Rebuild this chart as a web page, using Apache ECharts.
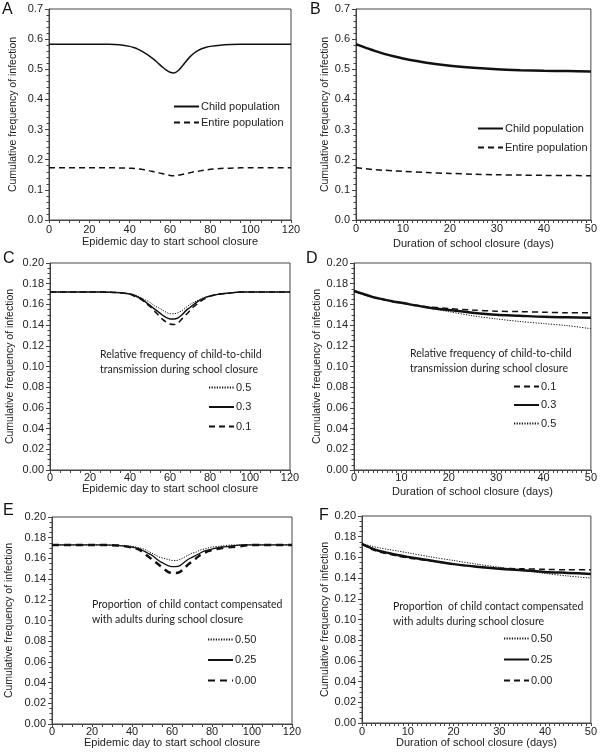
<!DOCTYPE html>
<html>
<head>
<meta charset="utf-8">
<script src="https://cdn.jsdelivr.net/npm/echarts@6/dist/echarts.min.js"></script>
<style>html,body{margin:0;padding:0;background:#fff}#c{width:600px;height:754px}</style>
</head>
<body>
<div id="c"></div>
<script>
// ---------- DATA ----------
// Epidemic day to start school closure (panels A, C, E)
const startDays = [0,5,10,15,20,25,30,35,40,42,44,46,48,50,52,54,56,58,60,62,64,66,68,70,72,74,76,78,80,85,90,95,100,105,110,115,120];
// Panel A
const aChild  = [0.583,0.583,0.583,0.583,0.583,0.583,0.583,0.581,0.576,0.572,0.567,0.560,0.552,0.543,0.533,0.521,0.509,0.498,0.490,0.488,0.495,0.510,0.527,0.542,0.554,0.563,0.569,0.573,0.576,0.580,0.582,0.583,0.583,0.583,0.583,0.583,0.583];
const aEntire = [0.173,0.173,0.173,0.173,0.173,0.173,0.173,0.1728,0.172,0.171,0.170,0.168,0.166,0.163,0.160,0.157,0.154,0.151,0.148,0.147,0.148,0.151,0.154,0.157,0.160,0.162,0.164,0.166,0.168,0.171,0.172,0.173,0.173,0.173,0.173,0.173,0.173];
// Panel C (relative frequency of child-to-child transmission)
const cDot05   = [0.172,0.172,0.172,0.172,0.172,0.172,0.1718,0.1713,0.1703,0.1695,0.168,0.166,0.164,0.162,0.159,0.157,0.155,0.1525,0.151,0.151,0.152,0.154,0.157,0.160,0.162,0.164,0.166,0.167,0.168,0.170,0.171,0.172,0.172,0.172,0.172,0.172,0.172];
const cSolid03 = [0.172,0.172,0.172,0.172,0.172,0.172,0.1718,0.1713,0.1700,0.169,0.167,0.165,0.162,0.159,0.156,0.153,0.150,0.1475,0.146,0.1458,0.147,0.150,0.154,0.157,0.160,0.163,0.165,0.167,0.168,0.170,0.171,0.172,0.172,0.172,0.172,0.172,0.172];
const cDash01  = [0.172,0.172,0.172,0.172,0.172,0.172,0.1718,0.1712,0.1698,0.168,0.1665,0.164,0.161,0.158,0.154,0.150,0.146,0.143,0.141,0.1405,0.142,0.146,0.150,0.154,0.158,0.161,0.164,0.166,0.168,0.170,0.171,0.172,0.172,0.172,0.172,0.172,0.172];
// Panel E (proportion of child contact compensated with adults)
const eDot050   = [0.173,0.173,0.173,0.173,0.173,0.173,0.1728,0.1724,0.1716,0.171,0.170,0.169,0.167,0.165,0.163,0.161,0.160,0.159,0.158,0.158,0.159,0.161,0.163,0.165,0.166,0.168,0.169,0.170,0.171,0.172,0.173,0.173,0.173,0.173,0.173,0.173,0.173];
const eSolid025 = [0.173,0.173,0.173,0.173,0.173,0.173,0.1728,0.1722,0.1710,0.170,0.169,0.167,0.165,0.163,0.160,0.157,0.155,0.153,0.152,0.152,0.153,0.156,0.159,0.161,0.163,0.165,0.167,0.168,0.169,0.171,0.172,0.173,0.173,0.173,0.173,0.173,0.173];
const eDash000  = [0.173,0.173,0.173,0.173,0.173,0.173,0.1728,0.1721,0.1705,0.1695,0.168,0.165,0.162,0.159,0.156,0.153,0.150,0.147,0.146,0.146,0.147,0.150,0.154,0.157,0.160,0.163,0.165,0.167,0.168,0.170,0.171,0.172,0.173,0.173,0.173,0.173,0.173];

// Duration of school closure (days) (panels B, D, F)
const durDays = [0,2,4,6,8,10,15,20,25,30,35,40,45,50];
const bChild  = [0.583,0.572,0.561,0.551,0.543,0.536,0.522,0.512,0.505,0.500,0.497,0.495,0.494,0.493];
const bEntire = [0.173,0.170,0.167,0.165,0.163,0.1615,0.1575,0.1545,0.152,0.150,0.149,0.148,0.1475,0.147];
const dDash01  = [0.173,0.170,0.167,0.165,0.163,0.1615,0.158,0.156,0.1545,0.1535,0.153,0.1525,0.152,0.152];
const dSolid03 = [0.173,0.170,0.167,0.165,0.163,0.1615,0.1575,0.1545,0.152,0.150,0.149,0.148,0.1475,0.147];
const dDot05   = [0.173,0.170,0.167,0.165,0.163,0.161,0.157,0.153,0.149,0.146,0.1435,0.1415,0.1395,0.1365];
const fDot050   = [0.173,0.171,0.169,0.1675,0.166,0.1645,0.1605,0.157,0.1535,0.1505,0.1475,0.1445,0.142,0.140];
const fSolid025 = [0.173,0.169,0.166,0.164,0.162,0.1605,0.157,0.1535,0.151,0.149,0.1475,0.146,0.145,0.144];
const fDash000  = [0.173,0.168,0.165,0.163,0.161,0.1595,0.1565,0.1535,0.151,0.1495,0.149,0.1485,0.148,0.148];

const panelLetters = ['A','B','C','D','E','F'];
const yName = 'Cumulative frequency of infection';
const xNameStart = 'Epidemic day to start school closure';
const xNameDur = 'Duration of school closure (days)';
const headC = 'Relative frequency of child-to-child\ntransmission during school closure';
const headE = 'Proportion  of child contact compensated\nwith adults during school closure';

// ---------- CHART ----------
const pairs = (xs, ys) => xs.map((x, i) => [x, ys[i]]);
const FONT = 'Liberation Sans, Arial, sans-serif';
const INK = '#111';
const AX = '#444';

const grids = [
  {left: 49,  top: 9,   width: 242, height: 211},
  {left: 356, top: 9,   width: 237, height: 211},
  {left: 50,  top: 263, width: 240, height: 207},
  {left: 354, top: 263, width: 239, height: 207},
  {left: 52,  top: 517, width: 240, height: 207},
  {left: 362, top: 516, width: 232, height: 207}
].map(g => Object.assign({show: true, borderColor: AX, borderWidth: 1, backgroundColor: 'transparent'}, g));

function xAx(i, max, interval, minorSplit, name, nameGap, margin) {
  return {
    type: 'value', gridIndex: i, min: 0, max: max, interval: interval,
    name: name, nameLocation: 'middle', nameGap: nameGap,
    nameTextStyle: {fontFamily: FONT, fontSize: 11, color: '#222'},
    axisLine: {show: true, onZero: false, lineStyle: {color: AX, width: 1}},
    axisTick: {show: true, inside: false, length: 3, lineStyle: {color: AX}},
    minorTick: {show: true, splitNumber: minorSplit, length: 3, lineStyle: {color: AX}},
    axisLabel: {fontFamily: FONT, fontSize: 11, color: '#222', margin: margin},
    splitLine: {show: false}
  };
}
function yAx(i, max, interval, dec, nameGap) {
  return {
    type: 'value', gridIndex: i, min: 0, max: max, interval: interval,
    name: yName, nameLocation: 'middle', nameGap: nameGap, nameRotate: 90,
    nameTextStyle: {fontFamily: FONT, fontSize: 10.5, color: '#222'},
    axisLine: {show: true, onZero: false, lineStyle: {color: AX, width: 1}},
    axisTick: {show: true, inside: false, length: 4, lineStyle: {color: AX}},
    minorTick: {show: true, splitNumber: dec === 1 ? 5 : 4, length: 2.5, lineStyle: {color: AX}},
    axisLabel: {fontFamily: FONT, fontSize: 11, color: '#222', margin: 6, formatter: v => v.toFixed(dec)},
    splitLine: {show: false}
  };
}

const xAxes = [
  xAx(0, 120, 20, 4, xNameStart, 16, 4),
  xAx(1, 50, 10, 10, xNameDur, 18, 3),
  xAx(2, 120, 20, 4, xNameStart, 13, 2),
  xAx(3, 50, 10, 10, xNameDur, 16, 2),
  xAx(4, 120, 20, 4, xNameStart, 8, 2),
  xAx(5, 50, 10, 10, xNameDur, 13, 3)
];
const yAxes = [
  yAx(0, 0.7, 0.1, 1, 30),
  yAx(1, 0.7, 0.1, 1, 25),
  yAx(2, 0.2, 0.02, 2, 34),
  yAx(3, 0.2, 0.02, 2, 28),
  yAx(4, 0.2, 0.02, 2, 37),
  yAx(5, 0.2, 0.02, 2, 31)
];

function line(name, i, xs, ys, width, type) {
  return {
    name: name, type: 'line', xAxisIndex: i, yAxisIndex: i,
    data: pairs(xs, ys), smooth: 0.3, symbol: 'none', silent: true,
    lineStyle: {color: INK, width: width, type: type},
    itemStyle: {color: INK}
  };
}
const DOT = [1.2, 1.4];
const DASH = [6, 4];
const series = [
  line('A|Child population', 0, startDays, aChild, 1.5, 'solid'),
  line('A|Entire population', 0, startDays, aEntire, 1.5, DASH),
  line('B|Child population', 1, durDays, bChild, 2.5, 'solid'),
  line('B|Entire population', 1, durDays, bEntire, 1.5, DASH),
  line('C|0.5', 2, startDays, cDot05, 1, DOT),
  line('C|0.3', 2, startDays, cSolid03, 1.5, 'solid'),
  line('C|0.1', 2, startDays, cDash01, 1.5, DASH),
  line('D|0.1', 3, durDays, dDash01, 1.5, DASH),
  line('D|0.3', 3, durDays, dSolid03, 2.5, 'solid'),
  line('D|0.5', 3, durDays, dDot05, 1, DOT),
  line('E|0.50', 4, startDays, eDot050, 1, DOT),
  line('E|0.25', 4, startDays, eSolid025, 1.3, 'solid'),
  line('E|0.00', 4, startDays, eDash000, 2.5, [7, 5]),
  line('F|0.50', 5, durDays, fDot050, 1, DOT),
  line('F|0.25', 5, durDays, fSolid025, 2.5, 'solid'),
  line('F|0.00', 5, durDays, fDash000, 1.5, DASH)
];

function legend(names, left, top, gap) {
  return {
    data: names, left: left, top: top, orient: 'vertical', padding: 0,
    itemWidth: 25, itemHeight: 10, itemGap: gap, selectedMode: false,
    itemStyle: {opacity: 0},
    formatter: n => n.split('|')[1],
    textStyle: {fontFamily: FONT, fontSize: 11, color: '#222', padding: [0, 0, 0, -3]}
  };
}
const legends = [
  legend(['A|Child population', 'A|Entire population'], 173, 101, 5),
  legend(['B|Child population', 'B|Entire population'], 477, 123, 8),
  legend(['C|0.5', 'C|0.3', 'C|0.1'], 208, 382, 8.5),
  legend(['D|0.1', 'D|0.3', 'D|0.5'], 513, 381, 7.5),
  legend(['E|0.50', 'E|0.25', 'E|0.00'], 207, 634, 9.5),
  legend(['F|0.50', 'F|0.25', 'F|0.00'], 503, 633, 10)
];

const letterPos = [[2, 2], [310, 2], [3, 251], [306, 251], [3, 503], [319, 508]];
const titles = letterPos.map((p, i) => ({
  text: panelLetters[i], left: p[0], top: p[1], padding: 0,
  textStyle: {fontFamily: FONT, fontSize: 16, fontWeight: 'normal', color: '#111'}
}));
const headStyle = {fontFamily: 'Lato, Open Sans, sans-serif', fontSize: 10.5, fontWeight: 'normal', color: '#222', lineHeight: 15};
titles.push({text: headC, left: 100, top: 347, padding: 0, textStyle: headStyle});
titles.push({text: headC, left: 410, top: 346, padding: 0, textStyle: headStyle});
titles.push({text: headE, left: 92, top: 597, padding: 0, textStyle: headStyle});
titles.push({text: headE, left: 393, top: 599, padding: 0, textStyle: headStyle});

const chart = echarts.init(document.getElementById('c'), null, {renderer: 'canvas'});
chart.setOption({
  animation: false,
  backgroundColor: '#fff',
  title: titles,
  legend: legends,
  grid: grids,
  xAxis: xAxes,
  yAxis: yAxes,
  series: series
});
</script>
</body>
</html>
